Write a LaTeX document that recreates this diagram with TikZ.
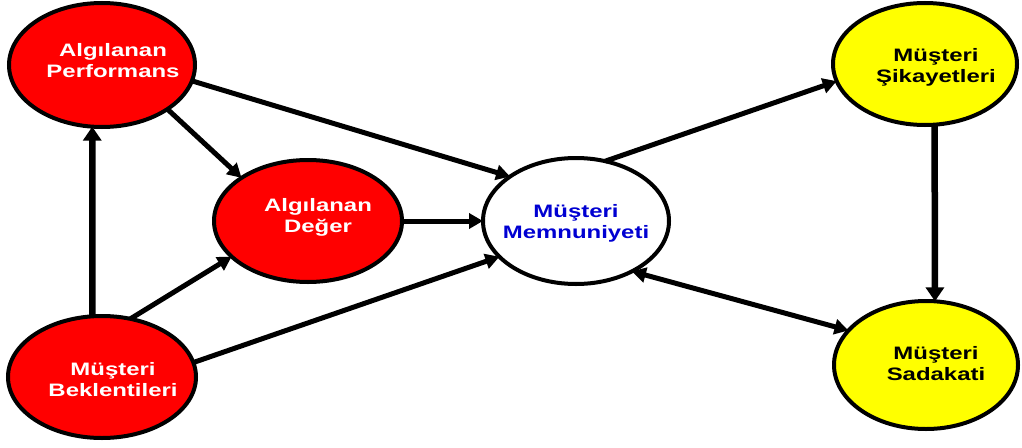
\documentclass[tikz,border=0pt]{standalone}
\usepackage{fontspec}
\newfontfamily\labfont{Liberation Sans}[FakeStretch=1.33]
\usetikzlibrary{arrows.meta,shapes.geometric}
\definecolor{nodered}{RGB}{255,0,0}
\definecolor{nodeyellow}{RGB}{255,255,0}
\definecolor{textblue}{RGB}{0,0,210}
\begin{document}
\begin{tikzpicture}[x=1pt,y=-1pt,
  bubble/.style={ellipse,draw=black,line width=4pt,inner sep=0pt,outer sep=0pt},
  redb/.style={bubble,fill=nodered},
  yelb/.style={bubble,fill=nodeyellow},
  whiteb/.style={bubble,fill=white},
  caption/.style={font=\labfont\bfseries\fontsize{18}{21}\selectfont,align=center,inner sep=0pt},
  link/.style={line width=5pt,-{Triangle[length=14pt,width=15pt]}},
  dlink/.style={line width=5pt,{Triangle[length=14pt,width=15pt]}-{Triangle[length=14pt,width=15pt]}},
  biglink/.style={line width=6.5pt,-{Triangle[length=14pt,width=18pt]}},
]
\fill[white] (0,0) rectangle (1022,447);
\useasboundingbox (0,0) rectangle (1022,447);

% bubbles
\node[redb,minimum width=186pt,minimum height=124pt] (ap) at (102,65) {};
\node[redb,minimum width=188pt,minimum height=122pt] (ad) at (308,221) {};
\node[whiteb,minimum width=186pt,minimum height=126pt] (mm) at (576,221) {};
\node[yelb,minimum width=184pt,minimum height=122pt] (ms) at (925,64) {};
\node[yelb,minimum width=184pt,minimum height=128pt] (sd) at (926,365) {};
\node[redb,minimum width=188pt,minimum height=122pt] (bk) at (102,377) {};

% captions
\node[caption,text=white] (ap-t) at ([shift={(11,-4)}]ap.center) {Algılanan\\Performans};
\node[caption,text=white] (ad-t) at ([shift={(10,-3.5)}]ad.center) {Algılanan\\Değer};
\node[caption,text=textblue] (mm-t) at ([shift={(0,2)}]mm.center) {Müşteri\\Memnuniyeti};
\node[caption,text=black] (ms-t) at ([shift={(11,3)}]ms.center) {Müşteri\\Şikayetleri};
\node[caption,text=black] (sd-t) at ([shift={(10,-1)}]sd.center) {Müşteri\\Sadakati};
\node[caption,text=white] (bk-t) at ([shift={(11,2.5)}]bk.center) {Müşteri\\Beklentileri};

% connectors
\draw[biglink] (bk.99) -- (ap.261);
\draw[link] (ap.-34) -- (ad.147);
\draw[link] (ap.-10) -- (mm.146);
\draw[link] (ad.east) -- (mm.west);
\draw[link] (bk.64) -- (ad.205);
\draw[link] (bk.9) -- (mm.205);
\draw[link] (mm.64) -- (ms.191);
\draw[biglink] (ms.279) -- (sd.82);
\draw[dlink] (mm.-42) -- (sd.156);
\end{tikzpicture}
\end{document}
